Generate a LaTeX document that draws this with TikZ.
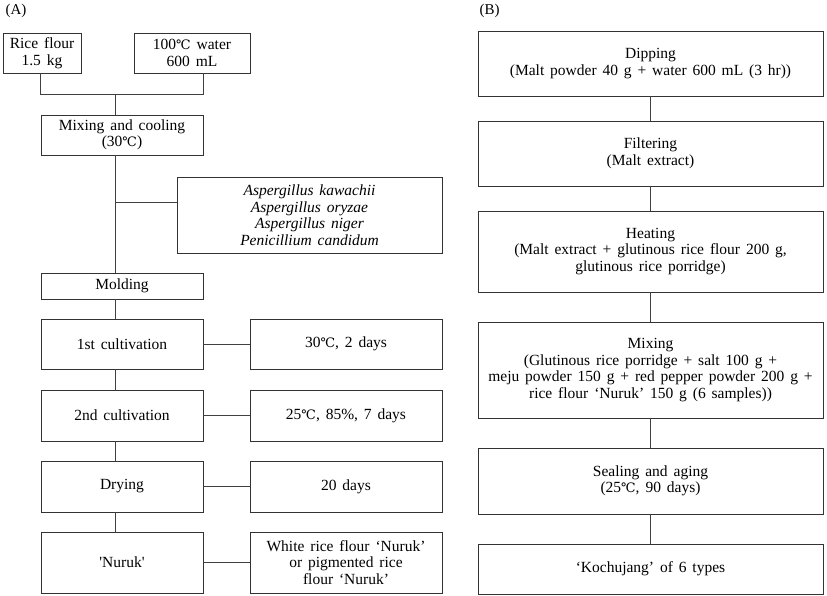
\documentclass[tikz,border=0pt]{standalone}
\usepackage{fontspec}
\setmainfont{Liberation Serif}
\newfontfamily\degfont{DejaVu Serif}
\usetikzlibrary{positioning, calc}
\newcommand{\degC}{{\degfont\fontsize{13}{16}\selectfont ℃}}
\newcommand{\boxfont}{\fontsize{15.5}{16.5}\selectfont\spaceskip=0.38em plus 0.1em\relax}

\begin{document}
\begin{tikzpicture}[
    x=1pt, y=1pt,
    box/.style={rectangle, draw=black!80, line width=0.9pt, fill=white,
      align=center, inner sep=2pt, font=\boxfont},
    link/.style={draw=black!75, line width=0.9pt},
    panel/.style={font=\fontsize{15}{17}\selectfont, anchor=west}
]
\useasboundingbox (0,0) rectangle (827,-596);

% (A) Nuruk
\node[panel] (pa) at (2,-11) {(A)};
\node[box, minimum width=78pt, minimum height=40pt] (rice) at (42,-53) {Rice flour\\1.5 kg};
\node[box, minimum width=116pt, minimum height=40pt] (water) at (192,-53) {100\degC\ water\\600 mL};
\node[box, minimum width=162pt, minimum height=40pt] (mix) at (122,-135) {Mixing and cooling\\(30\degC)};
\node[box, minimum width=265pt, minimum height=76pt] (asp) at (309.5,-215)
  {\itshape Aspergillus kawachii\\\itshape Aspergillus oryzae\\\itshape Aspergillus niger\\\itshape Penicillium candidum};
\node[box, minimum width=162pt, minimum height=26pt] (mold) at (122,-286) {Molding};
\node[box, minimum width=162pt, minimum height=50pt] (c1) at (122,-344) {1st cultivation};
\node[box, minimum width=162pt, minimum height=51pt] (c2) at (122,-415.5) {2nd cultivation};
\node[box, minimum width=162pt, minimum height=51pt] (dry) at (122,-486.5) {Drying};
\node[box, minimum width=162pt, minimum height=61pt] (nur) at (122,-562.5) {\textquotesingle Nuruk\textquotesingle};
\node[box, minimum width=192pt, minimum height=50pt] (t1) at (346,-344) {30\degC, 2 days};
\node[box, minimum width=192pt, minimum height=51pt] (t2) at (346,-415.5) {25\degC, 85\%, 7 days};
\node[box, minimum width=192pt, minimum height=51pt] (t3) at (346,-486.5) {20 days};
\node[box, minimum width=192pt, minimum height=61pt] (t4) at (346,-562.5)
  {White rice flour ‘Nuruk’\\or pigmented rice\\flour ‘Nuruk’};

\coordinate (join) at (115,-94.3);
\coordinate (branch) at (115,-202);
\draw[link] (rice.south -| mix.west) |- (join) -| (water.south -| mix.east);
\draw[link] (join) -- (join |- mix.north);
\draw[link] (mix.south -| join) -- (mold.north -| join);
\draw[link] (branch) -- (branch -| asp.west);
\foreach \a/\b in {mold/c1, c1/c2, c2/dry, dry/nur}
  \draw[link] (\a.south -| join) -- (\b.north -| join);
\foreach \a/\b in {c1/t1, c2/t2, dry/t3, nur/t4}
  \draw[link] (\a.east) -- (\b.west);

% (B) Kochujang
\node[panel] (pb) at (476,-11) {(B)};
\node[box, minimum width=345pt, minimum height=65pt] (dip) at (650.5,-63.5)
  {Dipping\\(Malt powder 40 g + water 600 mL (3 hr))};
\node[box, minimum width=345pt, minimum height=65pt] (filt) at (650.5,-153.5)
  {Filtering\\(Malt extract)};
\node[box, minimum width=345pt, minimum height=81pt] (heat) at (650.5,-251.5)
  {Heating\\(Malt extract + glutinous rice flour 200 g,\\glutinous rice porridge)};
\node[box, minimum width=345pt, minimum height=96pt] (mixb) at (650.5,-370)
  {Mixing\\(Glutinous rice porridge + salt 100 g +\\meju powder 150 g + red pepper powder 200 g +\\rice flour ‘Nuruk’ 150 g (6 samples))};
\node[box, minimum width=345pt, minimum height=66pt] (seal) at (650.5,-481)
  {Sealing and aging\\(25\degC, 90 days)};
\node[box, minimum width=345pt, minimum height=50pt] (koch) at (650.5,-569)
  {‘Kochujang’ of 6 types};

\foreach \a/\b in {dip/filt, filt/heat, heat/mixb, mixb/seal, seal/koch}
  \draw[link] (\a.south) -- (\b.north);

\end{tikzpicture}
\end{document}
